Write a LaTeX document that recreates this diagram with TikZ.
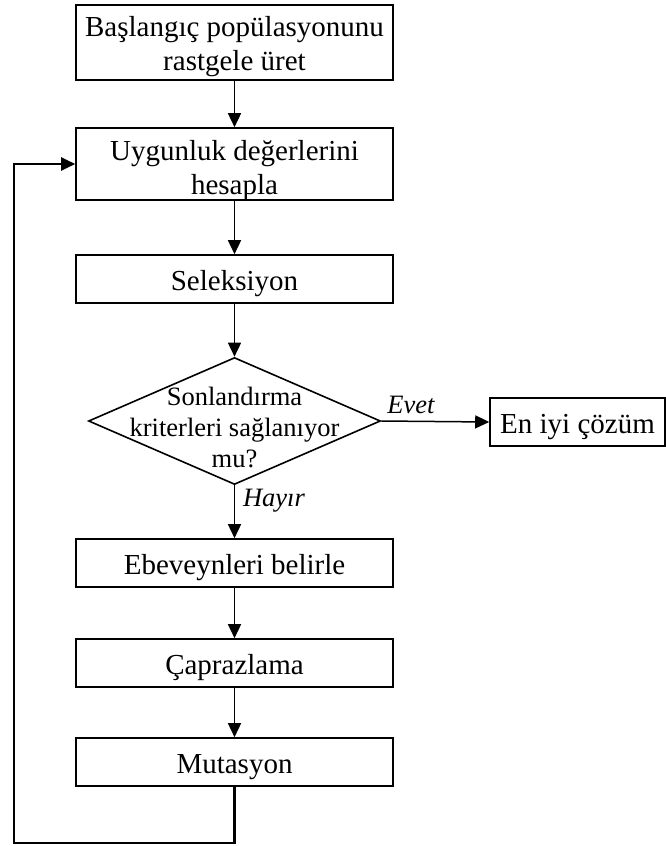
\documentclass[tikz,border=0pt]{standalone}
\usepackage{fontspec}
\setmainfont{Liberation Serif}
\usetikzlibrary{arrows.meta,shapes.geometric}

\tikzset{
  stepbox/.style={draw, line width=1.6pt, minimum width=317pt, inner sep=0pt,
    align=center, font=\fontsize{29}{34}\selectfont},
  % single-line box: baseline 11pt below the box centre
  onebox/.style={stepbox, minimum height=48pt, text height=24pt, text depth=2pt},
  flow/.style={line width=1.5pt, -{Triangle[length=14pt,width=13pt]}},
  back/.style={line width=2.2pt, -{Triangle[length=14pt,width=13pt]}},
  branch/.style={font=\fontsize{26.5}{30}\selectfont\itshape, inner sep=0pt},
}

\begin{document}
\begin{tikzpicture}[x=1pt, y=-1pt]
  \useasboundingbox (0,0) rectangle (666,846);

  % process steps (multi-line texts: height measured above the last baseline)
  \node[stepbox, minimum height=75pt, text height=60pt, text depth=5pt]
    (init) at (234.5,42.5) {Başlangıç popülasyonunu\\rastgele üret};
  \node[stepbox, minimum height=72pt, text height=65pt, text depth=5pt]
    (fit) at (234.5,164) {Uygunluk değerlerini\\hesapla};
  \node[onebox] (sel) at (234.5,279) {Seleksiyon};

  % termination test
  \node[diamond, draw, line width=1.6pt, minimum width=292pt,
        minimum height=127pt, inner sep=0pt] (test) at (234.5,421) {};
  \node[align=center, inner sep=0pt, font=\fontsize{26.5}{31}\selectfont,
        text height=97pt, text depth=5pt]
    (testtext) at (234.5,421) {Sonlandırma\\kriterleri sağlanıyor\\mu?};

  \node[onebox, minimum width=175pt] (best) at (577.5,422) {En iyi çözüm};

  \node[onebox] (par) at (234.5,563) {Ebeveynleri belirle};
  \node[onebox] (cross) at (234.5,663) {Çaprazlama};
  \node[onebox] (mut) at (234.5,762) {Mutasyon};

  % connectors
  \draw[flow] (init) -- (fit);
  \draw[flow] (fit) -- (sel);
  \draw[flow] (sel) -- (test.north);
  \draw[flow] (test.east) -- (best.west);
  \draw[flow] (test.south) -- (par.north);
  \draw[flow] (par) -- (cross);
  \draw[flow] (cross) -- (mut);

  % branch labels
  \node[branch] (yes) at (411,405) {Evet};
  \node[branch] (no) at (274,501) {Hayır};

  % loop back to fitness evaluation
  \coordinate (corner) at (14,843);
  \draw[back] (mut.south) |- (corner) |- (fit.west);
\end{tikzpicture}
\end{document}
